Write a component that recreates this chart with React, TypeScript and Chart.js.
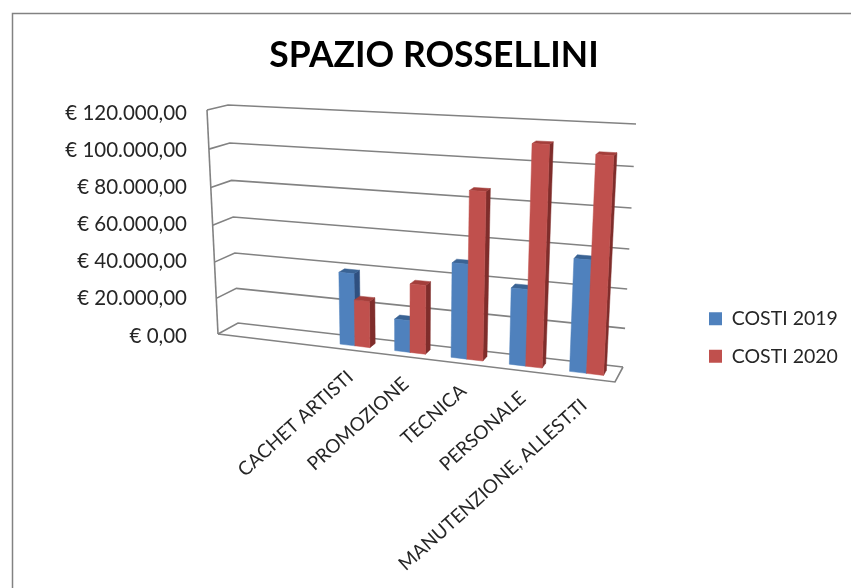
import React, { useEffect, useRef } from "react";
import { Chart, registerables } from "chart.js";

Chart.register(...registerables);

const categories = ["", "", "CACHET ARTISTI", "PROMOZIONE", "TECNICA", "PERSONALE", "MANUTENZIONE, ALLEST.TI"];
const costi2019 = [null, null, 39000, 17000, 49500, 39500, 57000];
const costi2020 = [null, null, 25000, 36500, 86500, 111000, 107500];
const axisMax = 120000;
const axisStep = 20000;

type P = [number, number];
const FRONT_BL: P = [218, 334];
const FRONT_BR: P = [615, 382];
const FRONT_TL: P = [207, 110];
const FRONT_TR: P = [627, 132];
const BACK_BL: P = [238, 323];
const BACK_BR: P = [623, 367];
const BACK_TL: P = [228, 105];
const BACK_TR: P = [636, 124];
const BAR_FRONT = 0.33;
const BAR_BACK = 0.67;
const FONT = "Lato, 'Open Sans', sans-serif";
const GRID = "#828282";
const TEXT = "#262626";

const persp = (t: number, w: number) => t / (t + (1 - t) * w);
const mix = (a: P, b: P, t: number): P => [a[0] + (b[0] - a[0]) * t, a[1] + (b[1] - a[1]) * t];

function project(u: number, v: number, d: number): P {
  const su = persp(u, 1.12);
  const sv = persp(v, 1.058);
  const front = mix(mix(FRONT_BL, FRONT_BR, su), mix(FRONT_TL, FRONT_TR, su), sv);
  const back = mix(mix(BACK_BL, BACK_BR, su), mix(BACK_TL, BACK_TR, su), sv);
  return mix(front, back, d);
}

function poly(ctx: CanvasRenderingContext2D, pts: P[], fill: string) {
  ctx.beginPath();
  pts.forEach((p, i) => (i ? ctx.lineTo(p[0], p[1]) : ctx.moveTo(p[0], p[1])));
  ctx.closePath();
  ctx.fillStyle = fill;
  ctx.fill();
  ctx.strokeStyle = fill;
  ctx.lineWidth = 0.5;
  ctx.stroke();
}

function line(ctx: CanvasRenderingContext2D, pts: P[]) {
  ctx.beginPath();
  pts.forEach((p, i) => (i ? ctx.lineTo(p[0], p[1]) : ctx.moveTo(p[0], p[1])));
  ctx.stroke();
}

const shades = [
  { front: "#4F81BD", top: "#3A6394", side: "#2F5080" },
  { front: "#C0504D", top: "#A33E3B", side: "#7F2D2B" },
];

const scene3d = {
  id: "scene3d",
  afterLayout(chart: any) {
    const legend = chart.legend;
    legend.left = 691;
    legend.right = 851;
    legend.top = 87;
    legend.bottom = 588;
  },
  beforeDraw(chart: any) {
    const ctx: CanvasRenderingContext2D = chart.ctx;
    ctx.save();
    ctx.strokeStyle = GRID;
    ctx.lineWidth = 1.5;
    ctx.strokeRect(12.5, 13.5, 900, 700);
    ctx.restore();
    const area = chart.chartArea;
    const xs = chart.scales.x;
    xs.getLabelItems(area).forEach((item: any, i: number) => {
      const u = (xs.getPixelForTick(i) - area.left) / (area.right - area.left);
      const p = project(u, 0, 0);
      item.options.translation = [p[0] - 7, p[1] + 16];
    });
  },
  beforeDatasetsDraw(chart: any) {
    const ctx: CanvasRenderingContext2D = chart.ctx;
    const area = chart.chartArea;
    const ys = chart.scales.y;
    const toV = (px: number) => (area.bottom - px) / (area.bottom - area.top);
    const toU = (px: number) => (px - area.left) / (area.right - area.left);

    ctx.save();
    ctx.strokeStyle = GRID;
    ctx.lineWidth = 1.6;
    ys.ticks.forEach((t: any) => {
      const v = toV(ys.getPixelForValue(t.value));
      line(ctx, [project(0, v, 0), project(0, v, 1), project(1, v, 1)]);
    });
    line(ctx, [project(0, 0, 0), project(0, 1, 0)]);
    line(ctx, [project(0, 0, 0), project(1, 0, 0), project(1, 0, 1)]);

    chart.data.datasets.forEach((ds: any, di: number) => {
      const meta = chart.getDatasetMeta(di);
      const c = shades[di];
      meta.data.forEach((bar: any, i: number) => {
        if (ds.data[i] == null) return;
        const u0 = toU(bar.x - bar.width / 2);
        const u1 = toU(bar.x + bar.width / 2);
        const v = toV(bar.y);
        poly(ctx, [project(u1, 0, BAR_FRONT), project(u1, 0, BAR_BACK), project(u1, v, BAR_BACK), project(u1, v, BAR_FRONT)], c.side);
        poly(ctx, [project(u0, v, BAR_FRONT), project(u1, v, BAR_FRONT), project(u1, v, BAR_BACK), project(u0, v, BAR_BACK)], c.top);
        poly(ctx, [project(u0, 0, BAR_FRONT), project(u1, 0, BAR_FRONT), project(u1, v, BAR_FRONT), project(u0, v, BAR_FRONT)], c.front);
      });
    });
    ctx.restore();
    return false;
  },
};

export default function App() {
  const ref = useRef<HTMLCanvasElement>(null);
  useEffect(() => {
    document.body.style.margin = "0";
    const chart = new Chart(ref.current!, {
      type: "bar",
      data: {
        labels: categories,
        datasets: [
          { label: "COSTI 2019", data: costi2019, backgroundColor: "#4F81BD" },
          { label: "COSTI 2020", data: costi2020, backgroundColor: "#C0504D" },
        ],
      },
      plugins: [scene3d],
      options: {
        responsive: false,
        animation: false,
        categoryPercentage: 0.55,
        barPercentage: 1,
        layout: { padding: { left: 17, right: 0, top: 0, bottom: 0 } },
        plugins: {
          title: {
            display: true,
            text: "SPAZIO ROSSELLINI",
            color: "#000",
            font: { family: FONT, size: 35.5, weight: "bold" },
            padding: { top: 34, bottom: 36.4 },
          },
          legend: {
            position: "right",
            labels: {
              boxWidth: 13,
              boxHeight: 13,
              padding: 18,
              color: TEXT,
              font: { family: FONT, size: 19.5 },
            },
          },
          tooltip: { enabled: false },
        },
        scales: {
          x: {
            afterFit: (s: any) => { s.height = 252; },
            grid: { display: false },
            border: { display: false },
            ticks: {
              autoSkip: false,
              minRotation: 42,
              maxRotation: 42,
              color: TEXT,
              font: { family: FONT, size: 19 },
            },
          },
          y: {
            min: 0,
            max: axisMax,
            afterFit: (s: any) => { s.width = 201; },
            grid: { display: false },
            border: { display: false },
            ticks: {
              stepSize: axisStep,
              padding: 23,
              color: TEXT,
              font: { family: FONT, size: 20.5 },
              callback: (v: any) =>
                "€ " + String(v).replace(/\B(?=(\d{3})+$)/g, ".") + ",00",
            },
          },
        },
      } as any,
    } as any);
    return () => chart.destroy();
  }, []);
  return <canvas ref={ref} width={851} height={588} style={{ display: "block" }} />;
}
